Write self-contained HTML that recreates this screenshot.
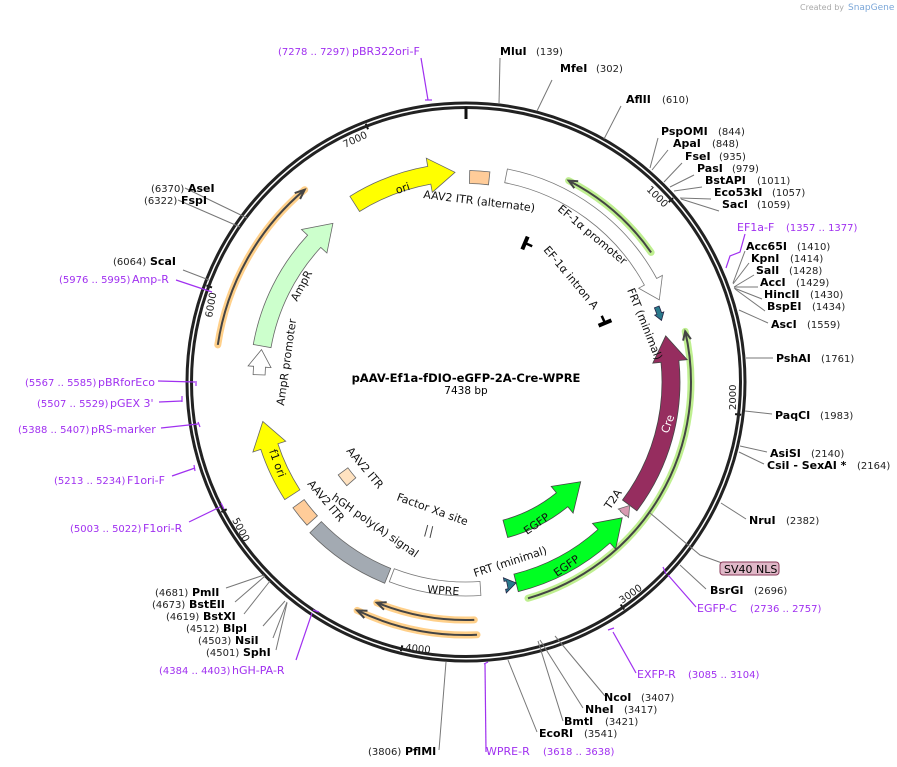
<!DOCTYPE html>
<html><head><meta charset="utf-8"><style>
body{margin:0;background:#fff}
svg{display:block}
text{font-family:"DejaVu Sans","Liberation Sans",sans-serif}
.e{font-size:11px;font-weight:bold;fill:#000}
.n{font-size:10px;fill:#222}
.p{font-size:11px;fill:#a030f0}
.pn{font-size:10px;fill:#a030f0}
.f{font-size:11px;fill:#111}
.ln{stroke:#777;stroke-width:1;fill:none}
.pl{stroke:#a030f0;stroke-width:1.2;fill:none}
</style></head><body>
<svg id="s" width="897" height="767" viewBox="0 0 897 767" xmlns="http://www.w3.org/2000/svg">
<text x="800" y="10" font-size="8" fill="#aaa">Created by</text><text x="848" y="10" font-size="9" fill="#7aa6d8">SnapGene</text>
<g id="g"></g>
<circle cx="466" cy="382" r="279" fill="none" stroke="#222" stroke-width="3"/>
<circle cx="466" cy="382" r="274.5" fill="none" stroke="#222" stroke-width="3"/>
<line x1="466" y1="107" x2="466" y2="119" stroke="#111" stroke-width="3"/>
<text class="n" transform="translate(345,148) rotate(-25)">7000</text>
<text class="n" transform="translate(646,190) rotate(45)">1000</text>
<text class="n" transform="translate(736,410) rotate(-90)">2000</text>
<text class="n" transform="translate(622,604) rotate(-35)">3000</text>
<text class="n" transform="translate(405,651) rotate(5)">4000</text>
<text class="n" transform="translate(232,520) rotate(62)">5000</text>
<text class="n" transform="translate(212,318) rotate(-80)">6000</text>
<text x="466" y="382" text-anchor="middle" font-size="11.5" font-weight="bold">pAAV-Ef1a-fDIO-eGFP-2A-Cre-WPRE</text>
<text x="466" y="394" text-anchor="middle" font-size="10.5">7438 bp</text>
<text class="f" transform="translate(397,194) rotate(-18)">ori</text>
<text class="f" transform="translate(423,198) rotate(7)">AAV2 ITR (alternate)</text>
<text class="f" transform="translate(557,210) rotate(40)">EF-1α promoter</text>
<text class="f" transform="translate(543,250) rotate(50)">EF-1α intron A</text>
<text class="f" transform="translate(627,290) rotate(68)">FRT (minimal)</text>
<text class="f" transform="translate(297,302) rotate(-62)">AmpR</text>
<text class="f" transform="translate(284,406) rotate(-82)">AmpR promoter</text>
<text class="f" transform="translate(269,451) rotate(70)">f1 ori</text>
<text class="f" transform="translate(346,451) rotate(50)">AAV2 ITR</text>
<text class="f" transform="translate(307,484) rotate(50)">AAV2 ITR</text>
<text class="f" transform="translate(331,499) rotate(35)">hGH poly(A) signal</text>
<text class="f" transform="translate(396,500) rotate(20)">Factor Xa site</text>
<text class="f" transform="translate(427,593) rotate(4)">WPRE</text>
<text class="f" transform="translate(475,577) rotate(-18)">FRT (minimal)</text>
<text class="f" transform="translate(557,577) rotate(-35)">EGFP</text>
<text class="f" transform="translate(527,535) rotate(-35)">EGFP</text>
<text class="f" transform="translate(610,510) rotate(-55)">T2A</text>
<text class="f" transform="translate(668,434) rotate(-70)" style="fill:#fff">Cre</text>
<g class="ln">
<path d="M499,104 L500,58"/><path d="M537,111 L552,80"/><path d="M604,139 L621,106"/>
<path d="M650,168 L658,138"/><path d="M652,170 L668,150"/><path d="M664,182 L682,163"/><path d="M670,187 L694,175"/><path d="M674,191 L702,187"/><path d="M680,198 L711,199"/><path d="M681,199 L719,211"/>
<path d="M733,283 L745,251"/><path d="M733,284 L749,263"/><path d="M734,287 L754,275"/><path d="M734,287 L758,287"/><path d="M734,288 L762,299"/><path d="M735,289 L765,311"/><path d="M739,310 L768,323"/>
<path d="M746,358 L773,358"/><path d="M745,411 L772,414"/><path d="M740,446 L767,452"/><path d="M739,452 L764,464"/><path d="M721,503 L746,519"/>
<path d="M650,513 L700,555 L722,563"/><path d="M680,565 L706,589"/>
<path d="M555,636 L605,696"/><path d="M540,640 L583,708"/><path d="M538,641 L563,721"/><path d="M508,660 L537,732"/><path d="M446,662 L439,750"/>
<path d="M247,218 L185,188"/><path d="M240,227 L178,200"/><path d="M209,280 L183,270"/>
<path d="M264,575 L226,588"/><path d="M265,576 L235,602"/><path d="M270,581 L244,614"/><path d="M285,601 L263,626"/><path d="M287,602 L273,638"/><path d="M287,603 L276,650"/>
</g>
<rect x="720" y="562" width="59" height="13" rx="3" fill="#e0b8c8" stroke="#8a3a5a"/>
<text x="724" y="573" font-size="11">SV40 NLS</text>
<g class="e">
<text x="500" y="55">MluI</text><text x="560" y="72">MfeI</text><text x="626" y="103">AflII</text>
<text x="661" y="135">PspOMI</text><text x="673" y="147">ApaI</text><text x="685" y="160">FseI</text><text x="697" y="172">PasI</text><text x="705" y="184">BstAPI</text><text x="714" y="196">Eco53kI</text><text x="722" y="208">SacI</text>
<text x="746" y="250">Acc65I</text><text x="751" y="262">KpnI</text><text x="756" y="274">SalI</text><text x="760" y="286">AccI</text><text x="764" y="298">HincII</text><text x="767" y="310">BspEI</text><text x="771" y="328">AscI</text>
<text x="776" y="362">PshAI</text><text x="775" y="419">PaqCI</text><text x="770" y="457">AsiSI</text><text x="767" y="469">CsiI  - SexAI *</text><text x="749" y="524">NruI</text><text x="710" y="594">BsrGI</text>
<text x="604" y="701">NcoI</text><text x="585" y="713">NheI</text><text x="564" y="725">BmtI</text><text x="539" y="737">EcoRI</text><text x="405" y="755">PflMI</text>
<text x="188" y="192">AseI</text><text x="181" y="204">FspI</text><text x="150" y="265">ScaI</text>
<text x="192" y="596">PmlI</text><text x="189" y="608">BstEII</text><text x="203" y="620">BstXI</text><text x="223" y="632">BlpI</text><text x="235" y="644">NsiI</text><text x="243" y="656">SphI</text>
</g>
<g class="n">
<text x="536" y="55">(139)</text><text x="596" y="72">(302)</text><text x="662" y="103">(610)</text>
<text x="718" y="135">(844)</text><text x="712" y="147">(848)</text><text x="719" y="160">(935)</text><text x="732" y="172">(979)</text><text x="757" y="184">(1011)</text><text x="772" y="196">(1057)</text><text x="757" y="208">(1059)</text>
<text x="797" y="250">(1410)</text><text x="790" y="262">(1414)</text><text x="789" y="274">(1428)</text><text x="796" y="286">(1429)</text><text x="810" y="298">(1430)</text><text x="812" y="310">(1434)</text><text x="807" y="328">(1559)</text>
<text x="821" y="362">(1761)</text><text x="820" y="419">(1983)</text><text x="811" y="457">(2140)</text><text x="857" y="469">(2164)</text><text x="786" y="524">(2382)</text><text x="754" y="594">(2696)</text>
<text x="641" y="701">(3407)</text><text x="624" y="713">(3417)</text><text x="605" y="725">(3421)</text><text x="584" y="737">(3541)</text><text x="368" y="755">(3806)</text>
<text x="151" y="192">(6370)</text><text x="144" y="204">(6322)</text><text x="113" y="265">(6064)</text>
<text x="155" y="596">(4681)</text><text x="152" y="608">(4673)</text><text x="166" y="620">(4619)</text><text x="186" y="632">(4512)</text><text x="198" y="644">(4503)</text><text x="206" y="656">(4501)</text>
</g>
<g class="pl">
<path d="M421,58 L428,100"/><path d="M425,100 L432,100"/>
<path d="M745,234 L740,252 L730,256 L726,268"/>
<path d="M696,607 L668,575"/><path d="M663,567 L666,574"/>
<path d="M636,673 L613,632"/><path d="M608,630 L614,628"/>
<path d="M486,752 L485,664"/><path d="M484,664 L488,662"/>
<path d="M176,280 L212,292"/>
<path d="M158,381 L195,382"/><path d="M196,381 L196,386"/>
<path d="M159,402 L182,401"/><path d="M182,396 L182,402"/>
<path d="M161,428 L198,424"/><path d="M198,422 L200,427"/>
<path d="M172,476 L195,468"/><path d="M194,465 L195,471"/>
<path d="M189,522 L220,507"/><path d="M221,503 L224,509"/>
<path d="M296,660 L312,613"/><path d="M313,610 L319,612"/>
</g>
<g class="p">
<text x="352" y="55">pBR322ori-F</text><text x="737" y="231">EF1a-F</text><text x="697" y="612">EGFP-C</text><text x="637" y="678">EXFP-R</text><text x="486" y="755">WPRE-R</text>
<text x="132" y="283">Amp-R</text><text x="98" y="386">pBRforEco</text><text x="110" y="407">pGEX 3'</text><text x="91" y="433">pRS-marker</text><text x="127" y="484">F1ori-F</text><text x="143" y="532">F1ori-R</text><text x="232" y="674">hGH-PA-R</text>
</g>
<g class="pn">
<text x="278" y="55">(7278 .. 7297)</text><text x="786" y="231">(1357 .. 1377)</text><text x="750" y="612">(2736 .. 2757)</text><text x="688" y="678">(3085 .. 3104)</text><text x="543" y="755">(3618 .. 3638)</text>
<text x="59" y="283">(5976 .. 5995)</text><text x="25" y="386">(5567 .. 5585)</text><text x="37" y="407">(5507 .. 5529)</text><text x="18" y="433">(5388 .. 5407)</text><text x="54" y="484">(5213 .. 5234)</text><text x="70" y="532">(5003 .. 5022)</text><text x="159" y="674">(4384 .. 4403)</text>
</g>
</svg>
<script>
var cx=466,cy=382,NS="http://www.w3.org/2000/svg",g=document.getElementById("g");
function P(a,r){a=a*Math.PI/180;return [(cx+r*Math.sin(a)).toFixed(1),(cy-r*Math.cos(a)).toFixed(1)].join(",");}
function el(t,at){var e=document.createElementNS(NS,t);for(var k in at)e.setAttribute(k,at[k]);g.appendChild(e);return e;}
function arc(a1,a2,r){var sw=a2>a1?1:0,lg=Math.abs(a2-a1)>180?1:0;return "A"+r+","+r+" 0 "+lg+","+sw+" "+P(a2,r);}
function feat(a1,a2,r,w,head,fill,stroke,hl){
 var ro=r+w/2,ri=r-w/2,hw=w*0.8,h=hl||(w*0.9*180/Math.PI/r*1.6);
 var d;
 if(head=="e"){var b=a2-h;d="M"+P(a1,ro)+arc(a1,b,ro)+"L"+P(b,r+hw*1.2)+"L"+P(a2,r)+"L"+P(b,r-hw*1.2)+"L"+P(b,ri)+arc(b,a1,ri)+"Z";}
 else if(head=="s"){var b=a1+h;d="M"+P(a2,ro)+arc(a2,b,ro)+"L"+P(b,r+hw*1.2)+"L"+P(a1,r)+"L"+P(b,r-hw*1.2)+"L"+P(b,ri)+arc(b,a2,ri)+"Z";}
 else d="M"+P(a1,ro)+arc(a1,a2,ro)+"L"+P(a2,ri)+arc(a2,a1,ri)+"Z";
 el("path",{d:d,fill:fill,stroke:stroke||"#666","stroke-width":0.8});
}
function prim(a1,a2,r,head,glow){
 el("path",{d:"M"+P(a1,r)+arc(a1,a2,r),fill:"none",stroke:glow,"stroke-width":7,"stroke-linecap":"round"});
 el("path",{d:"M"+P(a1,r)+arc(a1,a2,r),fill:"none",stroke:"#444","stroke-width":2});
 var t=head=="e"?a2:a1,dir=head=="e"?-1:1,b=t+dir*2.2;
 el("path",{d:"M"+P(b,r+4)+"L"+P(t,r)+"L"+P(b,r-4),fill:"none",stroke:"#444","stroke-width":2});
}
prim(27,55,226,"s","#bfef90");
prim(77,164,225,"s","#bfef90");
prim(278.5,320,251,"e","#ffd08a");
prim(177.5,205.5,253,"e","#ffd08a");
prim(178,202,238,"e","#ffd08a");
feat(-32,-3,210,18,"e","#ffff00");
feat(1,6.5,205,13,"","#ffcc99");
feat(11,67,210,14,"e","#ffffff","#777");
feat(68.5,72.5,205,5,"e","#2a7a8c","#224");
feat(77,127,205,18,"s","#962d5f","#444");
feat(127,130,205,7,"s","#d89ab2","#666");
feat(131,166,207,18,"s","#00ff22","#444");
feat(166,168.5,207,8,"s","#2a7a8c","#224");
feat(131,165,152,18,"s","#00ff22","#444");
feat(176,201,207,14,"","#ffffff","#777");
feat(202,226,209,16,"","#a3aab2","#666");
feat(228,234,207,14,"","#ffcc99","#666");
feat(229,234,152,12,"","#ffe2c0","#666");
feat(237,259,207,18,"e","#ffff00","#666");
feat(272,279,207,12,"e","#ffffff","#666");
feat(280,320,207,18,"e","#ccffcc","#666");
function tmark(a,r,o){el("path",{d:"M"+P(a,r-7)+"L"+P(a,r+7),stroke:"#000","stroke-width":4});
 el("path",{d:"M"+P(a,r)+"L"+P(a+o,r),stroke:"#000","stroke-width":2.5});}
tmark(23,151,3);tmark(67,151,-3);
el("path",{d:"M"+P(193,148)+"L"+P(193,160)+"M"+P(195,148)+"L"+P(195,160),stroke:"#444","stroke-width":1});
[1000,2000,3000,4000,5000,6000,7000].forEach(function(p){var a=p/7438*360;el("path",{d:"M"+P(a,271)+"L"+P(a,277),stroke:"#111","stroke-width":2});});
</script>
</body></html>
